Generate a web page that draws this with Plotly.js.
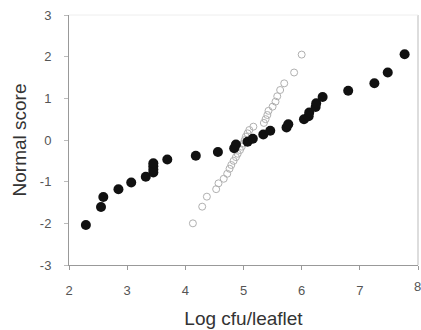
<!DOCTYPE html>
<html>
<head>
<meta charset="utf-8">
<script src="https://cdn.plot.ly/plotly-3.0.1.min.js"></script>
<style>html,body{margin:0;padding:0;background:#fff;}#chart{width:421px;height:330px;}</style>
</head>
<body>
<div id="chart"></div>
<script>
// Filled series (black dots)
var filledX = [2.29, 2.55, 2.59, 2.85, 3.07, 3.32, 3.45, 3.45, 3.45, 3.45, 3.69, 4.18, 4.56, 4.84, 4.87, 5.07, 5.16, 5.34, 5.46, 5.74, 5.77, 6.04, 6.12, 6.13, 6.24, 6.25, 6.36, 6.80, 7.25, 7.48, 7.77];
var filledY = [-2.04, -1.61, -1.37, -1.18, -1.02, -0.88, -0.78, -0.71, -0.63, -0.56, -0.47, -0.38, -0.29, -0.20, -0.11, -0.04, 0.03, 0.13, 0.22, 0.30, 0.38, 0.50, 0.57, 0.66, 0.79, 0.88, 1.03, 1.18, 1.36, 1.62, 2.06];
// Open series (grey circles)
var openX = [4.13, 4.29, 4.37, 4.53, 4.57, 4.66, 4.72, 4.76, 4.79, 4.83, 4.87, 4.90, 4.94, 4.97, 5.00, 5.02, 5.04, 5.07, 5.10, 5.17, 5.35, 5.38, 5.41, 5.43, 5.50, 5.55, 5.58, 5.63, 5.70, 5.87, 6.00];
var openY = [-2.00, -1.60, -1.36, -1.18, -1.04, -0.93, -0.81, -0.69, -0.60, -0.50, -0.41, -0.33, -0.24, -0.16, -0.08, 0.00, 0.08, 0.16, 0.24, 0.32, 0.41, 0.50, 0.60, 0.70, 0.80, 0.92, 1.05, 1.20, 1.36, 1.62, 2.05];
var xTicks = [2, 3, 4, 5, 6, 7, 8];
var yTicks = [-3, -2, -1, 0, 1, 2, 3];

var traces = [
  {x: openX, y: openY, type: 'scatter', mode: 'markers',
   marker: {symbol: 'circle-open', size: 7, color: '#b0b0b0', line: {width: 1, color: '#b0b0b0'}},
   cliponaxis: false, hoverinfo: 'skip'},
  {x: filledX, y: filledY, type: 'scatter', mode: 'markers',
   marker: {symbol: 'circle', size: 10, color: '#111111'},
   cliponaxis: false, hoverinfo: 'skip'}
];

var fam = 'Liberation Sans, Arial, sans-serif';
var tickFont = {family: fam, size: 13, color: '#555'};
var lastX = xTicks[xTicks.length - 1];
// the last label sits at the page edge; it is drawn as an annotation so it is not dropped
var xTickText = xTicks.map(function (v, i) { return i === xTicks.length - 1 ? '' : String(v); });
var layout = {
  width: 421, height: 330,
  margin: {l: 69, r: 3, t: 15, b: 65},
  paper_bgcolor: '#fff', plot_bgcolor: '#fff',
  showlegend: false,
  xaxis: {
    range: [2, 8], tickvals: xTicks, ticktext: xTickText,
    showgrid: false, zeroline: false, showline: true, linecolor: '#999', linewidth: 1,
    ticks: 'outside', ticklen: 4, tickcolor: '#999', tickfont: tickFont, ticklabelstandoff: 9,
    title: {text: 'Log cfu/leaflet', font: {family: fam, size: 19, color: '#333'}, standoff: 15}
  },
  yaxis: {
    range: [-3, 3], tickvals: yTicks, ticktext: yTicks.map(String),
    showgrid: false, zeroline: false, showline: true, linecolor: '#999', linewidth: 1,
    ticks: 'outside', ticklen: 4, tickcolor: '#bbb', tickfont: tickFont, ticklabelstandoff: 10,
    title: {text: 'Normal score', font: {family: fam, size: 19, color: '#333'}, standoff: 8}
  },
  annotations: [
    {xref: 'x', yref: 'paper', x: lastX, y: 0, text: String(lastX), showarrow: false,
     xanchor: 'left', yanchor: 'top', xshift: -5, yshift: -13, font: tickFont, borderpad: 0}
  ],
  shapes: [
    {type: 'line', xref: 'paper', yref: 'paper', x0: 1, x1: 1, y0: 0, y1: 1, line: {color: '#bbb', width: 1}},
    {type: 'line', xref: 'paper', yref: 'paper', x0: 0, x1: 1, y0: 1, y1: 1, line: {color: '#eee', width: 1}}
  ]
};
Plotly.newPlot('chart', traces, layout, {staticPlot: true, displayModeBar: false});
</script>
</body>
</html>
